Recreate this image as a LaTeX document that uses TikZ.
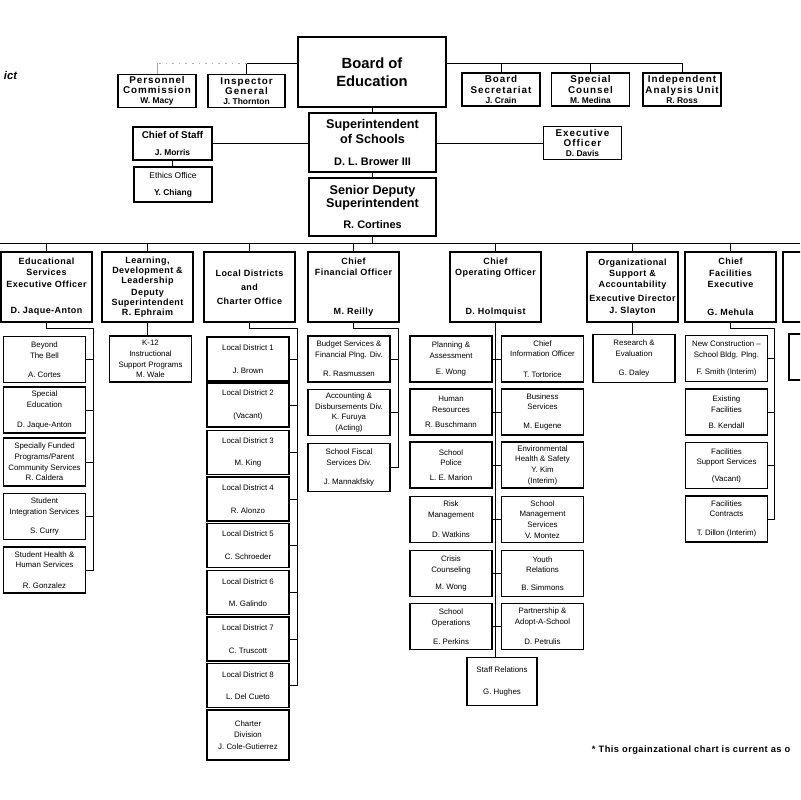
\documentclass[tikz,border=0pt]{standalone}
\usepackage{fontspec}
\setmainfont{Liberation Sans}
\newfontfamily\widesans[LetterSpace=10]{Liberation Sans}
\newfontfamily\midsans[LetterSpace=5]{Liberation Sans}
\usetikzlibrary{positioning}
\newcommand{\pname}[1]{{\normalfont\bfseries\fontsize{6}{7}\selectfont #1}}

\begin{document}
\begin{tikzpicture}[x=0.025cm,y=-0.025cm,
	conn/.style={line width=0.7pt},
	bigbox/.style={draw,line width=1.4pt,inner sep=0pt,align=center,minimum width=3.18cm,minimum height=1.47cm},
	topbox/.style={draw,line width=0.9pt,inner sep=0pt,align=center,minimum width=1.95cm,minimum height=0.82cm,font=\widesans\bfseries\fontsize{7}{7.3}\selectfont},
	chiefbox/.style={draw,line width=1.3pt,inner sep=0pt,align=center,minimum width=2.28cm,minimum height=1.75cm,font=\midsans\bfseries\fontsize{6.4}{8}\selectfont},
	subbox/.style={draw,line width=0.8pt,inner sep=0pt,align=center,minimum width=2.05cm,minimum height=1.15cm,font=\fontsize{5.6}{7.6}\selectfont},
	ldbox/.style={subbox,minimum height=1.1cm}]
	\useasboundingbox (0,0) rectangle (800,800);
	\clip (0,0) rectangle (800,800);

	\node[anchor=west,font=\bfseries\itshape\fontsize{8}{9}\selectfont] (title) at (-1,75) {ict};

	% board level
	\node[bigbox,minimum width=3.7cm,minimum height=1.75cm,font=\bfseries\fontsize{10.5}{13}\selectfont] (board) at (372,72) {Board of\\Education};
	\node[topbox] (pers) at (157,91) {Personnel\\Commission\\\pname{W. Macy}};
	\node[topbox,minimum width=1.92cm] (insp) at (246.5,91) {Inspector\\General\\\pname{J. Thornton}};
	\node[topbox] (secr) at (501,89.5) {Board\\Secretariat\\\pname{J. Crain}};
	\node[topbox] (couns) at (590.5,89.5) {Special\\Counsel\\\pname{M. Medina}};
	\node[topbox] (iau) at (682,89.5) {Independent\\Analysis Unit\\\pname{R. Ross}};

	\node[bigbox,font=\bfseries\fontsize{9}{10.7}\selectfont] (supt) at (372.5,142.5) {Superintendent\\of Schools\\[5.5pt]{\fontsize{7.8}{9}\selectfont D. L. Brower III}};
	\node[bigbox,font=\bfseries\fontsize{9}{9.5}\selectfont] (sds) at (372.5,207) {Senior Deputy\\Superintendent\\[5.5pt]{\fontsize{7.8}{9}\selectfont R. Cortines}};
	\node[draw,line width=0.9pt,inner sep=0pt,align=center,minimum width=1.98cm,minimum height=0.83cm,font=\bfseries\fontsize{7}{8}\selectfont] (cos) at (172.5,143.5) {Chief of Staff\\[4.5pt]\pname{J. Morris}};
	\node[draw,line width=0.9pt,inner sep=0pt,align=center,minimum width=1.95cm,minimum height=0.88cm,font=\fontsize{6}{7}\selectfont] (ethics) at (173,184.5) {Ethics Office\\[5pt]\pname{Y. Chiang}};
	\node[topbox] (exec) at (582.5,143) {Executive\\Officer\\\pname{D. Davis}};

	% chiefs
	\node[chiefbox] (edu) at (46.5,287) {Educational\\Services\\Executive Officer\\[11pt]D. Jaque-Anton};
	\node[chiefbox,font=\midsans\bfseries\fontsize{6.4}{7}\selectfont] (learn) at (147.5,287) {Learning,\\Development \&\\Leadership\\[2pt]Deputy\\Superintendent\\R. Ephraim};
	\node[chiefbox] (local) at (249.5,287) {Local Districts\\[2pt]and\\[2pt]Charter Office};
	\node[chiefbox] (cfo) at (353.5,287) {Chief\\Financial Officer\\[20pt]M. Reilly};
	\node[chiefbox] (coo) at (495.5,287) {Chief\\Operating Officer\\[20pt]D. Holmquist};
	\node[chiefbox] (org) at (632.5,287) {Organizational\\Support \&\\Accountability\\[2pt]Executive Director\\J. Slayton};
	\node[chiefbox] (fac) at (730.5,287) {Chief\\Facilities\\Executive\\[12pt]G. Mehula};
	\node[chiefbox] (nextc) at (828.5,287) {};

	% educational services
	\node[subbox] (bell) at (44.5,359.5) {Beyond\\The Bell\\[6pt]A. Cortes};
	\node[subbox,line width=1.1pt] (sped) at (44.5,410) {Special\\Education\\[7pt]D. Jaque-Anton};
	\node[subbox,line width=1.1pt,minimum height=1.2cm] (sfp) at (44.5,462) {Specially Funded\\Programs/Parent\\Community Services\\R. Caldera};
	\node[subbox] (sis) at (44.5,516.5) {Student\\Integration Services\\[6pt]S. Curry};
	\node[subbox,line width=1.1pt] (shhs) at (44.5,570) {Student Health \&\\Human Services\\[7pt]R. Gonzalez};
	\node[subbox] (k12) at (150.5,359) {K-12\\Instructional\\Support Programs\\M. Wale};

	% local districts
	\node[ldbox] (ld1) at (248,359) {Local District 1\\[8.5pt]J. Brown};
	\node[ldbox] (ld2) at (248,405) {Local District 2\\[8.5pt](Vacant)};
	\node[ldbox] (ld3) at (248,452.5) {Local District 3\\[8.5pt]M. King};
	\node[ldbox] (ld4) at (248,499) {Local District 4\\[8.5pt]R. Alonzo};
	\node[ldbox] (ld5) at (248,545.5) {Local District 5\\[8.5pt]C. Schroeder};
	\node[ldbox] (ld6) at (248,592.5) {Local District 6\\[8.5pt]M. Galindo};
	\node[ldbox,line width=1.2pt] (ld7) at (248,639) {Local District 7\\[8.5pt]C. Truscott};
	\node[ldbox] (ld8) at (248,685.5) {Local District 8\\[8.5pt]L. Del Cueto};
	\node[subbox,minimum height=1.25cm] (charter) at (248,735) {Charter\\Division\\[1pt]J. Cole-Gutierrez};

	% financial
	\node[subbox] (budget) at (349,359) {Budget Services \&\\Financial Plng. Div.\\[6pt]R. Rasmussen};
	\node[subbox] (acct) at (349,412.5) {Accounting \&\\Disbursements Div.\\K. Furuya\\(Acting)};
	\node[subbox,minimum height=1.22cm] (fiscal) at (349,467.5) {School Fiscal\\Services Div.\\[6pt]J. Mannakfsky};

	% operating
	\node[subbox] (plan) at (451,359) {Planning \&\\Assessment\\[4pt]E. Wong};
	\node[subbox] (hr) at (451,412) {Human\\Resources\\[3pt]R. Buschmann};
	\node[subbox] (police) at (451,465) {School\\Police\\[3pt]L. E. Marion};
	\node[subbox,line width=1.1pt] (risk) at (451,519.5) {Risk\\Management\\[7pt]D. Watkins};
	\node[subbox] (crisis) at (451,573.5) {Crisis\\Counseling\\[5pt]M. Wong};
	\node[subbox] (schops) at (451,626.5) {School\\Operations\\[6pt]E. Perkins};
	\node[subbox] (cio) at (542.5,359) {Chief\\Information Officer\\[7pt]T. Tortorice};
	\node[subbox] (busi) at (542.5,412) {Business\\Services\\[6pt]M. Eugene};
	\node[subbox] (ehs) at (542.5,465) {Environmental\\Health \& Safety\\Y. Kim\\(Interim)};
	\node[subbox] (sms) at (542.5,519.5) {School\\Management\\Services\\V. Montez};
	\node[subbox] (youth) at (542.5,573.5) {Youth\\Relations\\[5pt]B. Simmons};
	\node[subbox,line width=1.1pt] (adopt) at (542.5,626.5) {Partnership \&\\Adopt-A-School\\[7pt]D. Petrulis};
	\node[subbox,minimum width=1.75cm,minimum height=1.18cm] (staff) at (502,681.5) {Staff Relations\\[8.5pt]G. Hughes};

	% accountability and facilities
	\node[subbox,minimum height=1.18cm] (research) at (634,358.5) {Research \&\\Evaluation\\[6pt]G. Daley};
	\node[subbox,line width=1.1pt] (newcon) at (726.5,358.5) {New Construction --\\School Bldg. Plng.\\[5pt]F. Smith (Interim)};
	\node[subbox,line width=1.1pt] (exist) at (726.5,412) {Existing\\Facilities\\[4pt]B. Kendall};
	\node[subbox,line width=1.1pt] (fss) at (726.5,465.5) {Facilities\\Support Services\\[4pt](Vacant)};
	\node[subbox] (contr) at (726.5,519) {Facilities\\Contracts\\[6pt]T. Dillon (Interim)};
	\node[subbox] (nexts) at (830,357) {};

	\node[anchor=west,font=\midsans\bfseries\fontsize{6.6}{8}\selectfont] (note) at (587,750) {* This orgainzational chart is current as o};

	% connectors
	\coordinate (topL) at (0,63);
	\draw[conn] (board.west |- topL) -- (insp.north |- topL) -- (insp.north);
	\draw[conn,gray!60,dash pattern=on 1.2pt off 3.5pt] (insp.north |- topL) -- (pers.north |- topL);
	\draw[conn,gray!70] (pers.north |- topL) -- (pers.north);
	\draw[conn] (board.east |- topL) -- (iau.north |- topL) -- (iau.north);
	\foreach \b in {secr,couns}
		\draw[conn] (\b.north |- topL) -- (\b.north);

	\draw[conn] (board.south) -- (board.south |- supt.north);
	\draw[conn] (cos.east) -- (cos.east -| supt.west);
	\draw[conn] (cos.south) -- (cos.south |- ethics.north);
	\draw[conn] (exec.west -| supt.east) -- (exec.west);
	\draw[conn] (supt.south) -- (supt.south |- sds.north);

	\coordinate (busL) at (0,243);
	\coordinate (busR) at (800,243);
	\draw[conn] (busL) -- (busR);
	\draw[conn] (sds.south) -- (sds.south |- busL);
	\foreach \c in {edu,learn,local,cfo,coo,org,fac}
		\draw[conn] (\c.north |- busL) -- (\c.north);

	\coordinate (eduR) at (93,328);
	\draw[conn] (edu.south) |- (eduR) |- (shhs.east);
	\foreach \s in {bell,sped,sfp,sis}
		\draw[conn] (\s.east) -- (\s.east -| eduR);
	\draw[conn] (learn.south) -- (learn.south |- k12.north);

	\coordinate (locR) at (297,328);
	\draw[conn] (local.south) |- (locR) |- (ld8.east);
	\foreach \s in {1,...,7}
		\draw[conn] (ld\s.east) -- (ld\s.east -| locR);

	\coordinate (cfoR) at (398,328);
	\draw[conn] (cfo.south) |- (cfoR) |- (fiscal.east);
	\foreach \s in {budget,acct}
		\draw[conn] (\s.east) -- (\s.east -| cfoR);

	\draw[conn] (coo.south) -- (coo.south |- staff.north);
	\foreach \l/\r in {plan/cio,hr/busi,police/ehs,risk/sms,crisis/youth,schops/adopt}
		\draw[conn] (\l.east) -- (\r.west);

	\draw[conn] (org.south) -- (org.south |- research.north);

	\coordinate (facR) at (774,328);
	\draw[conn] (fac.south) |- (facR) |- (contr.east);
	\foreach \s in {newcon,exist,fss}
		\draw[conn] (\s.east) -- (\s.east -| facR);
\end{tikzpicture}
\end{document}
